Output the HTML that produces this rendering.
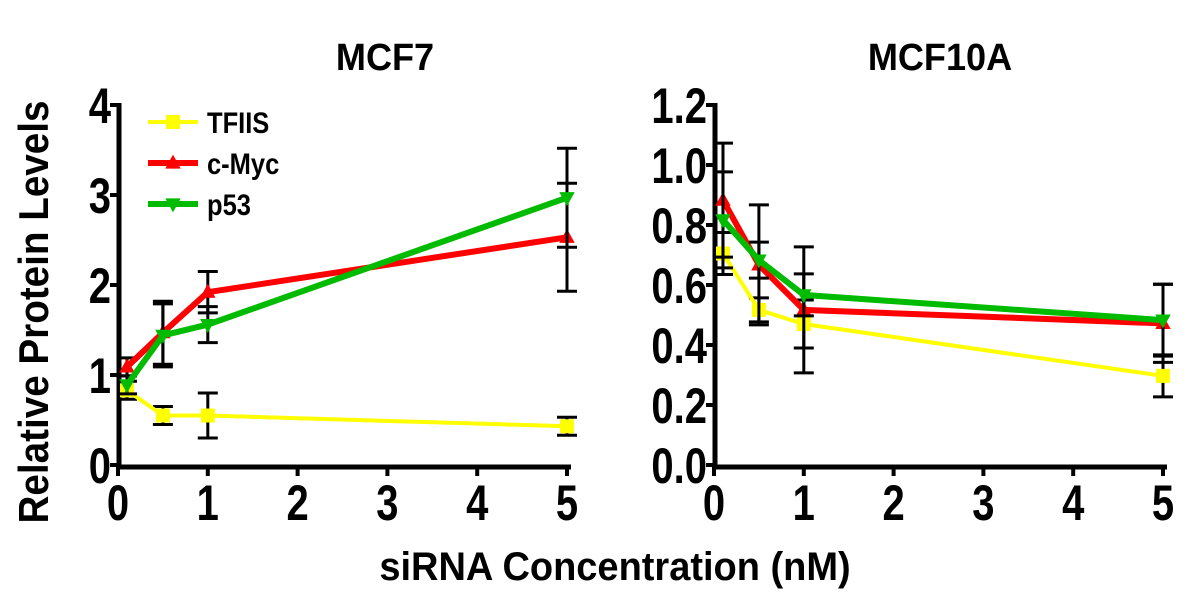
<!DOCTYPE html>
<html><head><meta charset="utf-8"><style>
body{margin:0;background:#fff}
svg{display:block}
text{font-family:"Liberation Sans",Arial,sans-serif;font-weight:bold;fill:#000}
</style></head><body>
<svg id="chart" width="1200" height="594" viewBox="0 0 1200 594" xmlns="http://www.w3.org/2000/svg">
<text transform="translate(48,312) rotate(-90) scale(0.92,1)" text-anchor="middle" font-size="42">Relative Protein Levels</text>
<text transform="translate(615,580) scale(0.95,1)" text-anchor="middle" font-size="40">siRNA Concentration (nM)</text>
<g id="p1"></g>
<g id="p2"></g>
</svg>
<script>
const xVals=[0.1,0.5,1,5];
const seriesNames=["TFIIS","c-Myc","p53"];
const mcf7TFIIS=[0.83,0.55,0.55,0.43];
const mcf7TFIISErr=[0.1,0.1,0.25,0.1];
const mcf7Myc=[1.09,1.47,1.92,2.53];
const mcf7MycErr=[0.1,0.35,0.23,0.6];
const mcf7P53=[0.89,1.44,1.56,2.97];
const mcf7P53Err=[0.1,0.35,0.2,0.55];
const mcf10TFIIS=[0.705,0.517,0.47,0.297];
const mcf10TFIISErr=[0.07,0.04,0.08,0.07];
const mcf10Myc=[0.883,0.667,0.517,0.472];
const mcf10MycErr=[0.19,0.2,0.21,0.13];
const mcf10P53=[0.817,0.683,0.567,0.483];
const mcf10P53Err=[0.16,0.06,0.07,0.12];
const xTicks=[0,1,2,3,4,5];
const yTicks1=[0,1,2,3,4];
const yTickLabels1=["0","1","2","3","4"];
const yTicks2=[0,0.2,0.4,0.6,0.8,1.0,1.2];
const yTickLabels2=["0.0","0.2","0.4","0.6","0.8","1.0","1.2"];
const colors=["#ffff00","#ff0000","#00bb00"];
const NS="http://www.w3.org/2000/svg";
function mk(parent,tag,attrs){const e=document.createElementNS(NS,tag);for(const k in attrs)e.setAttribute(k,attrs[k]);parent.appendChild(e);return e;}
function marker(g,type,x,y,c,s){
  let el;
  if(type===0){el=mk(g,'rect',{x:x-s,y:y-s,width:2*s,height:2*s,fill:c});}
  else if(type===1){el=mk(g,'polygon',{points:`${x},${y-s*1.2} ${x-s*1.1},${y+s*0.8} ${x+s*1.1},${y+s*0.8}`,fill:c});}
  else {el=mk(g,'polygon',{points:`${x},${y+s*1.2} ${x-s*1.1},${y-s*0.8} ${x+s*1.1},${y-s*0.8}`,fill:c});}
  return el;
}
function panel(gid,x0,title,titleX,yMax,yT,yTL,series,errs){
  const g=document.getElementById(gid);
  const X=v=>x0+v*89.8, Y=v=>465-v*(360/yMax);
  const t=mk(g,'text',{transform:`translate(${titleX},70) scale(0.95,1)`,'text-anchor':'middle','font-size':38});
  t.textContent=title;
  
  
  const ax=mk(g,'path',{d:`M${x0+1},${Y(yMax)-2}V${467}H${X(5)+4}`,stroke:'#000','stroke-width':5,fill:'none'});
  
  
  yT.forEach((v,i)=>{
    const tk=mk(g,'line',{x1:x0-8,x2:x0+1,y1:Y(v),y2:Y(v),stroke:'#000','stroke-width':4});
    
    
    const lb=mk(g,'text',{transform:`translate(${x0-7},${Y(v)+18}) scale(0.8,1)`,'text-anchor':'end','font-size':50});
    lb.textContent=yTL[i];
    
    
  });
  xTicks.forEach(v=>{
    const tk=mk(g,'line',{x1:X(v),x2:X(v),y1:465,y2:476,stroke:'#000','stroke-width':4});
    
    
    const lb=mk(g,'text',{transform:`translate(${X(v)},520) scale(0.8,1)`,'text-anchor':'middle','font-size':50});
    lb.textContent=String(v);
    
    
  });
  series.forEach((s,si)=>{
    const sg=mk(g,'g',{});
    
    
    s.forEach((v,i)=>{
      const e=errs[si][i],x=X(xVals[i]);
      const eb=mk(sg,'path',{d:`M${x},${Y(v+e)}V${Y(v-e)}M${x-10},${Y(v+e)}h20M${x-10},${Y(v-e)}h20`,stroke:'#000','stroke-width':3,fill:'none'});
      
      
    });
    const ln=mk(sg,'polyline',{points:s.map((v,i)=>X(xVals[i])+','+Y(v)).join(' '),stroke:colors[si],'stroke-width':si===0?4:6,fill:'none'});
    
    
    s.forEach((v,i)=>{
      const m=marker(sg,si,X(xVals[i]),Y(v),colors[si],7);
      
      
    });
  });
}
panel('p1',118,'MCF7',385,4,yTicks1,yTickLabels1,[mcf7TFIIS,mcf7Myc,mcf7P53],[mcf7TFIISErr,mcf7MycErr,mcf7P53Err]);
panel('p2',714,'MCF10A',940,1.2,yTicks2,yTickLabels2,[mcf10TFIIS,mcf10Myc,mcf10P53],[mcf10TFIISErr,mcf10MycErr,mcf10P53Err]);
const lg=mk(document.getElementById('chart'),'g',{});


[122,163,204].forEach((y,i)=>{
  const e=mk(lg,'g',{});
  
  
  mk(e,'line',{x1:148,x2:198,y1:y,y2:y,stroke:colors[i],'stroke-width':i===0?4:6});
  marker(e,i,173,y,colors[i],7);
  const t=mk(e,'text',{transform:`translate(207,${y+11}) scale(0.85,1)`,'font-size':30});
  t.textContent=seriesNames[i];
});
</script>
</body></html>
